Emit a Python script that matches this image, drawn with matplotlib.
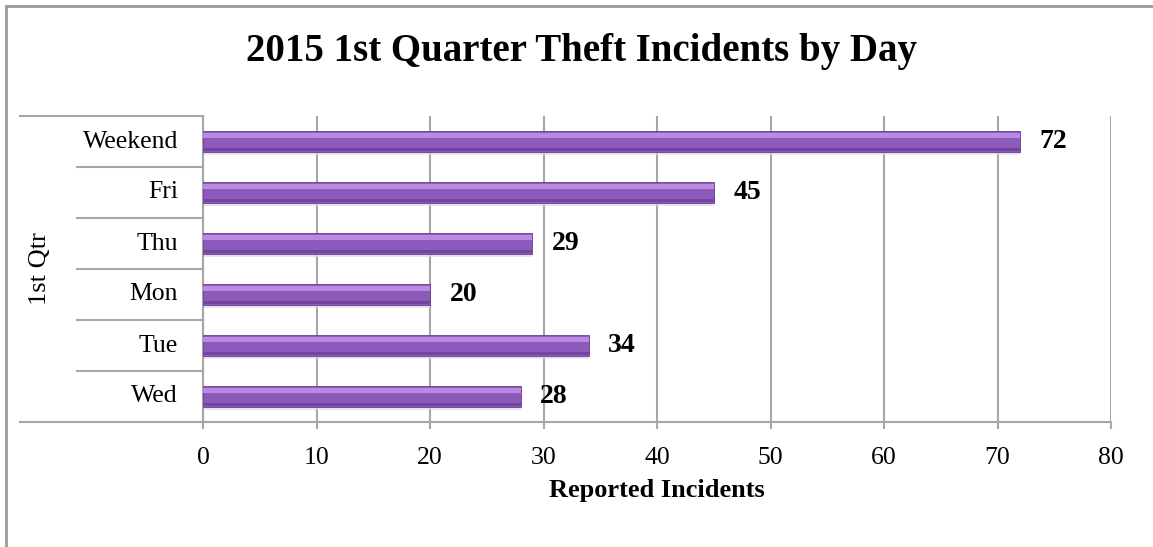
import matplotlib
matplotlib.use("Agg")
import matplotlib.pyplot as plt
import matplotlib.transforms as mtransforms
from matplotlib.lines import Line2D
from matplotlib.patches import Rectangle

# data (bottom to top, as drawn)
days = ["Wed", "Tue", "Mon", "Thu", "Fri", "Weekend"]
incidents = [28, 34, 20, 29, 45, 72]
xticks = [0, 10, 20, 30, 40, 50, 60, 70, 80]

title = "2015 1st Quarter Theft Incidents by Day"
xlabel = "Reported Incidents"
group_label = "1st Qtr"

plt.rcParams['font.family'] = ['Liberation Serif', 'DejaVu Serif']

W, H = 1153, 547
fig = plt.figure(figsize=(W / 100, H / 100), dpi=100)
ax = fig.add_axes([203 / W, 1 - 422 / H, (1111 - 203) / W, (422 - 116) / H])

grey = '#A6A6A6'
pos = list(range(len(days)))
bh = 0.4

# shadow, body, bevel highlights
ax.barh([p - 0.07 for p in pos], incidents, height=bh, color='#DCDCDC', alpha=0.7, zorder=2)
ax.barh(pos, incidents, height=bh, color='#8C5ABA', edgecolor='#6A3D92', linewidth=0.6, zorder=3)
ax.barh([p + 0.11 for p in pos], incidents, height=0.1, color='#BA8AE2', linewidth=0, zorder=4)
ax.barh([p - 0.155 for p in pos], incidents, height=0.07, color='#74449E', linewidth=0, zorder=4)

for p, v in zip(pos, incidents):
    ax.annotate(str(v), (v, p), xytext=(14, 0), textcoords='offset points',
                ha='left', va='center', fontsize=20, fontweight='bold', zorder=5)

ax.set_xlim(0, 80)
ax.set_ylim(-0.5, len(days) - 0.5)
ax.set_xticks(xticks)
ax.set_yticks([])
ax.tick_params(axis='x', direction='out', length=5, width=1.5, color=grey,
               labelsize=18.5, pad=13)
ax.grid(axis='x', color=grey, linewidth=1.5, zorder=0)
ax.set_axisbelow(True)
for s in ['top', 'right']:
    ax.spines[s].set_visible(False)
for s in ['left', 'bottom']:
    ax.spines[s].set_color(grey)
    ax.spines[s].set_linewidth(1.5)
ax.set_xlabel(xlabel, fontsize=19, fontweight='bold', va='center')
ax.xaxis.set_label_coords(0.5, (422 - 491) / 306)

# category labels and the label-area grid
tr = mtransforms.blended_transform_factory(fig.transFigure, ax.transData)
for p, d in zip(pos, days):
    fig.text(178 / W, p, d, transform=tr, ha='right', va='center', fontsize=18.5)
for k in range(len(days) - 1):
    fig.add_artist(Line2D([77 / W, 203 / W], [k + 0.5, k + 0.5], transform=tr,
                          color=grey, linewidth=1.5))
fig.add_artist(Line2D([20 / W, 203 / W], [len(days) - 0.5] * 2, transform=tr,
                      color=grey, linewidth=1.5))
fig.add_artist(Line2D([20 / W, 203 / W], [-0.5, -0.5], transform=tr,
                      color=grey, linewidth=1.5))
fig.text(40 / W, (len(days) - 1) / 2, group_label, transform=tr, rotation=90,
         ha='center', va='center', fontsize=19)

fig.suptitle(title, x=581 / W, y=1 - 52 / H, va='center', fontsize=28, fontweight='bold')

# outer chart border
fig.add_artist(Rectangle((6 / W, -0.1), 1.2, 1 - 6 / H + 0.1, transform=fig.transFigure,
                         fill=False, edgecolor='#999999', linewidth=2))

fig.savefig("out.png", dpi=100)
